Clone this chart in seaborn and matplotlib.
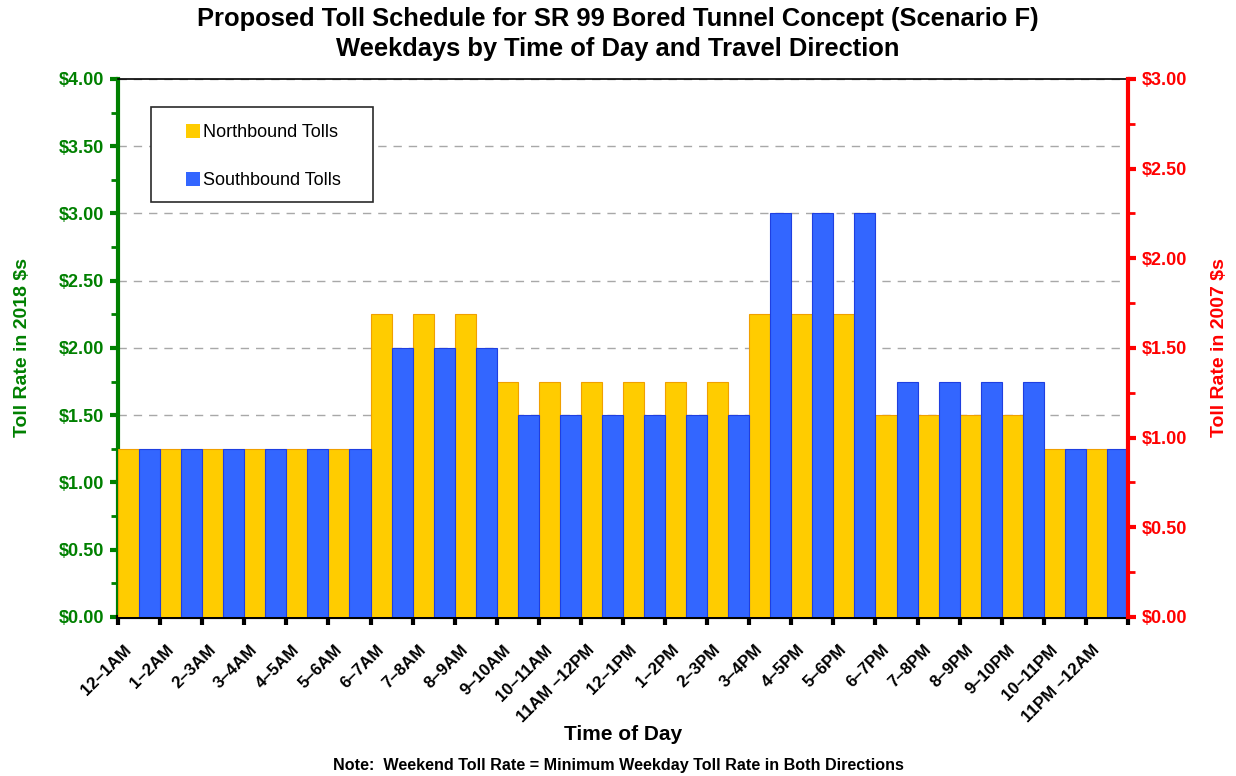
import matplotlib
matplotlib.use("Agg")
import matplotlib.pyplot as plt
from matplotlib.ticker import MultipleLocator, FuncFormatter, FixedLocator
from matplotlib.transforms import ScaledTranslation
from matplotlib.patches import Rectangle
import seaborn as sns
import pandas as pd
import numpy as np

# Hourly time periods (weekdays)
periods = ["12\u20131AM", "1\u20132AM", "2\u20133AM", "3\u20134AM", "4\u20135AM", "5\u20136AM",
           "6\u20137AM", "7\u20138AM", "8\u20139AM", "9\u201310AM", "10\u201311AM", "11AM \u201312PM",
           "12\u20131PM", "1\u20132PM", "2\u20133PM", "3\u20134PM", "4\u20135PM", "5\u20136PM",
           "6\u20137PM", "7\u20138PM", "8\u20139PM", "9\u201310PM", "10\u201311PM", "11PM \u201312AM"]

# Toll rates in 2018 dollars
northbound = [1.25, 1.25, 1.25, 1.25, 1.25, 1.25,
              2.25, 2.25, 2.25, 1.75, 1.75, 1.75,
              1.75, 1.75, 1.75, 2.25, 2.25, 2.25,
              1.50, 1.50, 1.50, 1.50, 1.25, 1.25]
southbound = [1.25, 1.25, 1.25, 1.25, 1.25, 1.25,
              2.00, 2.00, 2.00, 1.50, 1.50, 1.50,
              1.50, 1.50, 1.50, 3.00, 3.00, 3.00,
              1.75, 1.75, 1.75, 1.75, 1.25, 1.25]

directions = ["Northbound Tolls", "Southbound Tolls"]
colors = {"Northbound Tolls": "#FFCC00", "Southbound Tolls": "#3366FF"}
edges = {"Northbound Tolls": "#F0A000", "Southbound Tolls": "#1F3FE0"}

df = pd.DataFrame({
    "period": periods * 2,
    "toll": northbound + southbound,
    "direction": [directions[0]] * len(periods) + [directions[1]] * len(periods),
})

plt.rcParams["font.family"] = ["Liberation Sans", "DejaVu Sans"]

fig = plt.figure(figsize=(12.36, 7.76), dpi=100)
ax = fig.add_axes([0.0955, 0.2049, 0.9126 - 0.0955, 0.8982 - 0.2049])

sns.barplot(data=df, x="period", y="toll", hue="direction", order=periods,
            hue_order=directions, palette=colors, width=1.0, gap=0,
            saturation=1, ax=ax, zorder=3)

for cont, d in zip(ax.containers, directions):
    for patch in cont:
        patch.set_edgecolor(edges[d])
        patch.set_linewidth(0.8)

ax.set_xlim(-0.5, len(periods) - 0.5)
ax.set_ylim(0, 4)

# Left axis: 2018 dollars
money = FuncFormatter(lambda v, p: f"${v:.2f}")
ax.yaxis.set_major_locator(MultipleLocator(0.5))
ax.yaxis.set_minor_locator(MultipleLocator(0.25))
ax.yaxis.set_major_formatter(money)
ax.tick_params(axis="y", which="major", colors="#008000", labelsize=13, length=6, width=3, direction="out", pad=4)
ax.tick_params(axis="y", which="minor", colors="#008000", length=5, width=2, direction="out")
for lab in ax.get_yticklabels():
    lab.set_fontweight("bold")
ax.grid(axis="y", which="major", linestyle=(0, (6, 5)), color="#A8A8A8", linewidth=1.0, zorder=0)
ax.set_axisbelow(True)

# Category axis: boundary ticks, labels at bar-pair centers
ax.xaxis.set_minor_locator(FixedLocator(np.arange(-0.5, len(periods), 1.0)))
ax.tick_params(axis="x", which="major", length=0, pad=14)
ax.tick_params(axis="x", which="minor", length=6, width=3, color="black", direction="out")
ax.set_xticks(range(len(periods)))
ax.set_xticklabels(periods, rotation=45, ha="right", rotation_mode="anchor",
                   fontsize=12.2, fontweight="bold", va="center")
shift = ScaledTranslation(-0.10, -0.11, fig.dpi_scale_trans)
for tick in ax.xaxis.get_major_ticks():
    tick.label1.set_transform(tick.label1.get_transform() + shift)

ax.spines["left"].set_color("#008000")
ax.spines["left"].set_linewidth(3)
ax.spines["bottom"].set_color("black")
ax.spines["bottom"].set_linewidth(3)
ax.spines["top"].set_color("black")
ax.spines["top"].set_linewidth(1.2)
ax.spines["right"].set_visible(False)

ax.set_xlabel("Time of Day", fontsize=15, fontweight="bold", labelpad=0)
ax.set_ylabel("Toll Rate in 2018 $s", fontsize=14, fontweight="bold", color="#008000", labelpad=20)

# Right axis: 2007 dollars
ax2 = ax.twinx()
ax2.set_ylim(0, 3)
ax2.yaxis.set_major_locator(MultipleLocator(0.5))
ax2.yaxis.set_minor_locator(MultipleLocator(0.25))
ax2.yaxis.set_major_formatter(money)
ax2.tick_params(axis="y", which="major", colors="#FF0000", labelsize=13, length=6, width=3, direction="out", pad=4)
ax2.tick_params(axis="y", which="minor", colors="#FF0000", length=5, width=2, direction="out")
for lab in ax2.get_yticklabels():
    lab.set_fontweight("bold")
for s in ["left", "top", "bottom"]:
    ax2.spines[s].set_visible(False)
ax2.spines["right"].set_color("#FF0000")
ax2.spines["right"].set_linewidth(3)
ax2.set_ylabel("Toll Rate in 2007 $s", fontsize=14, fontweight="bold", color="#FF0000", labelpad=17)

# Legend with its own box
handles, labels = ax.get_legend_handles_labels()
ax.get_legend().remove()
ax.add_patch(Rectangle((0.0327, 0.771), 0.2198, 0.177, transform=ax.transAxes,
                       facecolor="white", edgecolor="#2a2a2a", linewidth=1.2, zorder=4))
leg = ax.legend(handles, labels, loc="upper left", bbox_to_anchor=(0.0673, 0.916),
                fontsize=13, frameon=False,
                handlelength=0.75, handleheight=0.75, handletextpad=0.2,
                labelspacing=1.72, borderpad=0, borderaxespad=0)
leg.set_zorder(5)

fig.text(0.5, 0.975, "Proposed Toll Schedule for SR 99 Bored Tunnel Concept (Scenario F)",
         ha="center", va="center", fontsize=18.4, fontweight="bold")
fig.text(0.5, 0.937, "Weekdays by Time of Day and Travel Direction",
         ha="center", va="center", fontsize=18.4, fontweight="bold")
fig.text(0.5, 0.014, "Note:  Weekend Toll Rate = Minimum Weekday Toll Rate in Both Directions",
         ha="center", va="center", fontsize=11.6, fontweight="bold")

fig.savefig("out.png", dpi=100)
